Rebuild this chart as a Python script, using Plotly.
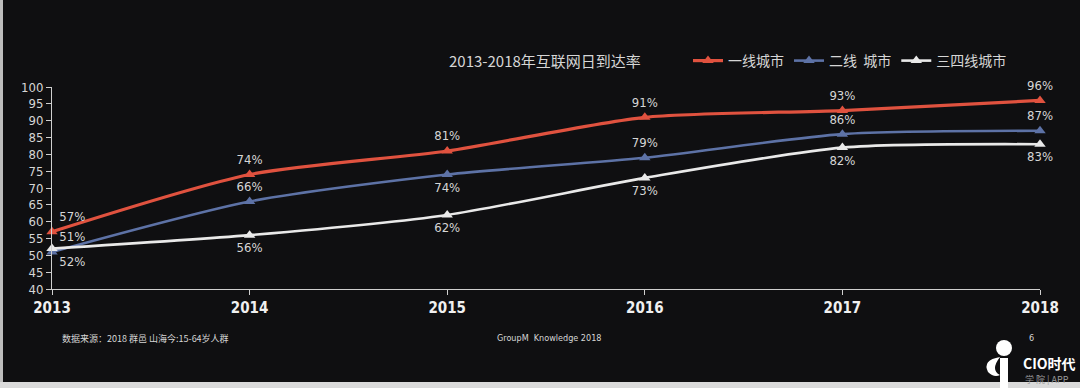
import plotly.graph_objects as go

years = [2013, 2014, 2015, 2016, 2017, 2018]
tier1 = [57, 74, 81, 91, 93, 96]
tier2 = [51, 66, 74, 79, 86, 87]
tier34 = [52, 56, 62, 73, 82, 83]
y_ticks = [40, 45, 50, 55, 60, 65, 70, 75, 80, 85, 90, 95, 100]

names = ["一线城市", "二线  城市", "三四线城市"]
colors = ["#e0523f", "#5d72a6", "#e9e9e9"]
pos1 = ["top right", "top center", "top center", "top center", "top center", "top center"]
pos2 = ["top right", "top center", "bottom center", "top center", "top center", "top center"]
pos3 = ["bottom right", "bottom center", "bottom center", "bottom center", "bottom center", "bottom center"]

W, H = 1080, 388
L, R, T, B = 52, 1040, 87, 289

def px(x):
    return (x - L) / (R - L)

def py(y):
    return (B - y) / (B - T)

NUM_FONT = "DejaVu Sans Condensed, Liberation Sans Narrow, Roboto Condensed, Arial Narrow, sans-serif"
CJK_FONT = "Noto Sans CJK SC, sans-serif"
TXT = "#d6d6d6"
BG = "#0f0f11"

fig = go.Figure()
for vals, name, col, pos, lw in [
    (tier1, names[0], colors[0], pos1, 3.2),
    (tier2, names[1], colors[1], pos2, 2.6),
    (tier34, names[2], colors[2], pos3, 2.6),
]:
    fig.add_trace(go.Scatter(
        x=years, y=vals, name=name, mode="lines+markers+text",
        line=dict(color=col, width=lw, shape="spline", smoothing=0.7),
        marker=dict(symbol="triangle-up", size=10, color=col),
        text=[f"{v}%" for v in vals], textposition=pos,
        textfont=dict(family=NUM_FONT, size=13, color=TXT),
        cliponaxis=False,
    ))

fig.update_layout(
    width=W, height=H,
    margin=dict(l=L, r=W - R, t=T, b=H - B),
    paper_bgcolor=BG, plot_bgcolor=BG,
    showlegend=True,
    legend=dict(orientation="h", x=px(688), y=py(61), xanchor="left", yanchor="middle",
                font=dict(family=CJK_FONT, size=14, color=TXT), bgcolor="rgba(0,0,0,0)",
                itemwidth=30, tracegroupgap=0),
    xaxis=dict(range=[2013, 2018], tickvals=years, ticktext=[str(y) for y in years],
               showgrid=False, zeroline=False, showline=True, linecolor="#cfcfcf", linewidth=1,
               ticks="outside", ticklen=5, tickcolor="#cfcfcf",
               tickfont=dict(family=NUM_FONT, size=15, color="#f0f0f0", weight="bold")),
    yaxis=dict(range=[40, 100], tickvals=y_ticks, showgrid=False, zeroline=False,
               showline=True, linecolor="#cfcfcf", linewidth=1,
               ticks="outside", ticklen=5, tickcolor="#cfcfcf",
               tickfont=dict(family=NUM_FONT, size=13, color=TXT)),
)

crescent = (f"M {px(1000)},{py(357)} Q {px(982)},{py(360)} {px(988)},{py(372)} "
            f"Q {px(994)},{py(378)} {px(1000)},{py(375)} Q {px(990)},{py(370)} {px(1000)},{py(357)} Z")
stem = f"M {px(1000)},{py(358)} L {px(1008)},{py(358)} L {px(1008)},{py(388)} L {px(1000)},{py(388)} Z"
shapes = [
    dict(type="rect", x0=px(0), x1=px(3), y0=py(0), y1=py(388), fillcolor="#bdbdbd", line_width=0),
    dict(type="rect", x0=px(0), x1=px(1080), y0=py(382), y1=py(388), fillcolor="#dadada", line_width=0),
    dict(type="circle", x0=px(996), x1=px(1012), y0=py(356), y1=py(340), fillcolor="#ffffff", line_width=0),
    dict(type="path", path=crescent, fillcolor="#ffffff", line_width=0),
    dict(type="path", path=stem, fillcolor="#ffffff", line_width=0),
]
for s in shapes:
    s.update(xref="paper", yref="paper", layer="above")
    fig.add_shape(**s)

ann = [
    dict(x=px(545), y=py(60), text="2013-2018年互联网日到达率", font=dict(family=CJK_FONT, size=15, color=TXT)),
    dict(x=px(60), y=py(338), text="数据来源：2018 群邑 山海今:15-64岁人群", xanchor="left",
         font=dict(family=CJK_FONT, size=9, color=TXT)),
    dict(x=px(549), y=py(338), text="GroupM  Knowledge 2018", font=dict(family=NUM_FONT, size=9, color=TXT)),
    dict(x=px(1031), y=py(338), text="6", font=dict(family=NUM_FONT, size=9, color=TXT)),
    dict(x=px(1049), y=py(363), text="<b>CIO时代</b>", font=dict(family=CJK_FONT, size=14, color="#ffffff")),
    dict(x=px(1047), y=py(379), text="学 院 | APP", font=dict(family=CJK_FONT, size=9, color="#9a9a9a")),
]
for a in ann:
    a.update(xref="paper", yref="paper", showarrow=False, xanchor=a.get("xanchor", "center"), yanchor="middle")
    fig.add_annotation(**a)

fig.write_html("out.html", config={"displayModeBar": False},
               post_script="document.body.style.margin='0';document.body.style.overflow='hidden';")
